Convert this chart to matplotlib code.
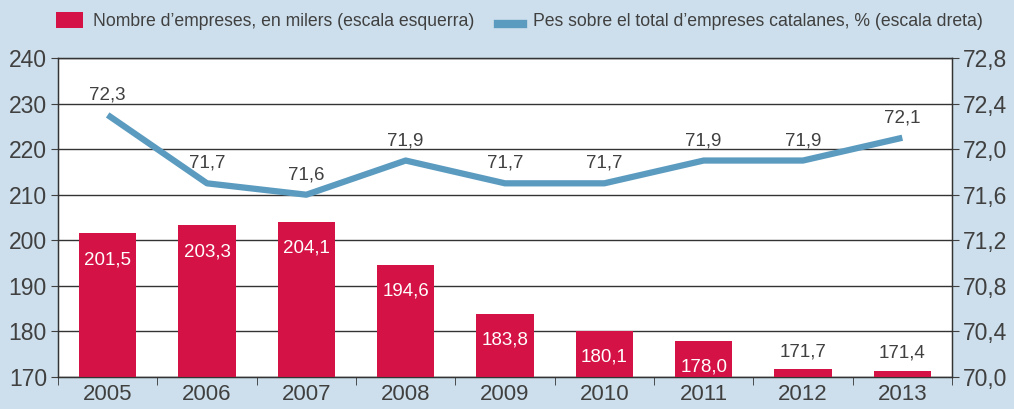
import matplotlib.pyplot as plt
import numpy as np
from matplotlib.patches import Rectangle
from matplotlib.lines import Line2D

plt.rcParams['font.family'] = ['Liberation Sans', 'DejaVu Sans']

anys = ['2005', '2006', '2007', '2008', '2009', '2010', '2011', '2012', '2013']
empreses = [201.5, 203.3, 204.1, 194.6, 183.8, 180.1, 178.0, 171.7, 171.4]
pes = [72.3, 71.7, 71.6, 71.9, 71.7, 71.7, 71.9, 71.9, 72.1]

fons = '#cddfec'
vermell = '#d51245'
blau = '#5b9bc0'
text_c = '#404040'

fig = plt.figure(figsize=(10.14, 4.09), dpi=100, facecolor=fons)
ax = fig.add_axes([58/1014, 1-377/409, (952-58)/1014, (377-58)/409])
ax.set_facecolor('white')

x = np.arange(len(anys))
ax.bar(x, [v - 170 for v in empreses], bottom=170, width=0.58, color=vermell, zorder=3)
ax.set_ylim(170, 240)
ax.set_xlim(-0.5, len(anys) - 0.5)
ax.set_yticks(range(170, 241, 10))
ax.grid(axis='y', color='#333333', linewidth=1.0, zorder=1)

for i, v in enumerate(empreses):
    s = f'{v:.1f}'.replace('.', ',')
    if v > 175:
        ax.text(i, v - 3.9, s, ha='center', va='top', color='white', fontsize=13.5, zorder=4)
    else:
        ax.text(i, v + 2.0, s, ha='center', va='bottom', color=text_c, fontsize=13.5, zorder=4)

ax.set_xticks(x)
ax.set_xticklabels(anys)
ax.set_xticks(np.arange(-0.5, len(anys), 1), minor=True)
ax.tick_params(axis='x', which='major', length=0, labelsize=16, colors=text_c, pad=5)
ax.tick_params(axis='x', which='minor', length=6, direction='out', color='#333333')
ax.tick_params(axis='y', length=5, labelsize=16.5, colors=text_c, pad=3)
for sp in ['top', 'right', 'left', 'bottom']:
    ax.spines[sp].set_color('#333333')
    ax.spines[sp].set_linewidth(1.0)

ax2 = ax.twinx()
ax2.plot(x, pes, color=blau, linewidth=4.5, zorder=5, solid_capstyle='butt')
ax2.set_ylim(70.0, 72.8)
ax2.set_yticks(np.arange(70.0, 72.81, 0.4))
ax2.set_yticklabels([f'{t:.1f}'.replace('.', ',') for t in np.arange(70.0, 72.81, 0.4)])
ax2.tick_params(axis='y', length=5, labelsize=16.5, colors=text_c, pad=3)
for sp in ['top', 'right', 'left', 'bottom']:
    ax2.spines[sp].set_color('#333333')
for i, v in enumerate(pes):
    ax2.text(i, v + 0.1, f'{v:.1f}'.replace('.', ','), ha='center', va='bottom',
             color=text_c, fontsize=13.5, zorder=6)

fig.patches.append(Rectangle((56/1014, 1-28/409), 27/1014, 16/409, transform=fig.transFigure,
                             facecolor=vermell, edgecolor='none'))
fig.text(93/1014, 1-21/409, 'Nombre d\u2019empreses, en milers (escala esquerra)',
         fontsize=12.7, color=text_c, va='center')
fig.lines.append(Line2D([498/1014, 523/1014], [1-24/409, 1-24/409], transform=fig.transFigure,
                        color=blau, linewidth=6))
fig.text(533/1014, 1-21/409, 'Pes sobre el total d\u2019empreses catalanes, % (escala dreta)',
         fontsize=12.7, color=text_c, va='center')

fig.savefig('out.png', dpi=100, facecolor=fons)
